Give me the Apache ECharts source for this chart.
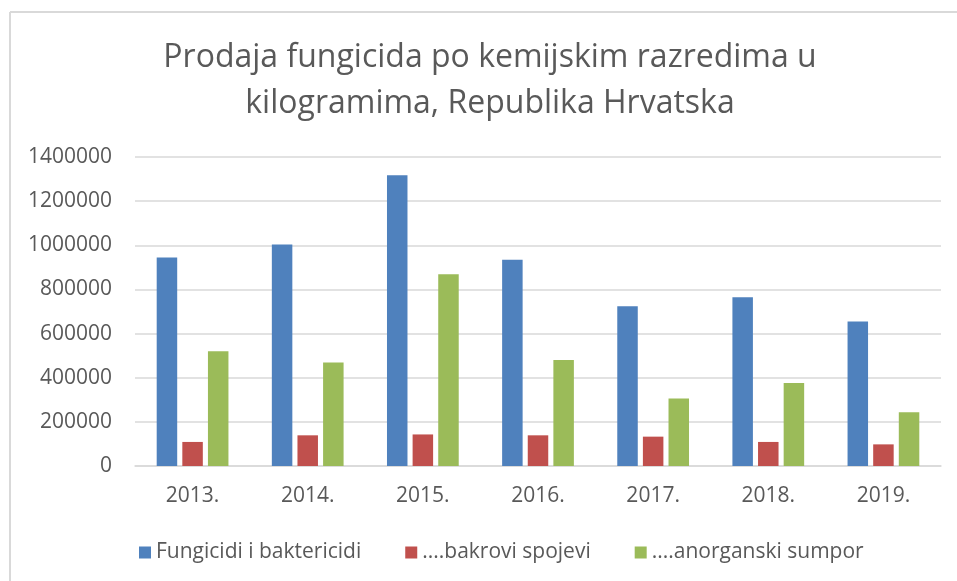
<!DOCTYPE html>
<html>
<head>
<meta charset="utf-8">
<script src="https://cdn.jsdelivr.net/npm/echarts@6/dist/echarts.min.js"></script>
<style>
html,body{margin:0;padding:0;background:#fff;}
#c{width:957px;height:581px;}
</style>
</head>
<body>
<div id="c"></div>
<script>
const categories = ['2013.', '2014.', '2015.', '2016.', '2017.', '2018.', '2019.'];
const seriesNames = ['Fungicidi i baktericidi', '....bakrovi spojevi', '....anorganski sumpor'];
const fungicidi = [945000, 1004000, 1317000, 934000, 724000, 765000, 655000];
const bakrovi = [109000, 139000, 143000, 139000, 133000, 109000, 98000];
const sumpor = [520000, 469000, 869000, 480000, 306000, 376000, 243000];
const yTicks = [0, 200000, 400000, 600000, 800000, 1000000, 1200000, 1400000];

const FONT = '"Open Sans", "Noto Sans", sans-serif';
const chart = echarts.init(document.getElementById('c'), null, {renderer: 'canvas'});
const colors = ['#4F81BD', '#C0504D', '#9BBB59'];

chart.setOption({
  animation: false,
  color: colors,
  title: {
    text: 'Prodaja fungicida po kemijskim razredima u\nkilogramima, Republika Hrvatska',
    left: 490,
    top: 35,
    padding: 0,
    textAlign: 'center',
    textStyle: {
      fontFamily: FONT,
      fontSize: 32,
      fontWeight: 'normal',
      color: '#595959',
      lineHeight: 46
    }
  },
  legend: {
    left: 134,
    top: 537,
    itemWidth: 12,
    itemHeight: 12,
    itemGap: 44,
    icon: 'rect',
    textStyle: {fontFamily: FONT, fontSize: 21, color: '#595959'},
    data: seriesNames
  },
  graphic: [
    {type: 'line', shape: {x1: 10, y1: 12, x2: 957, y2: 12}, style: {stroke: '#d9d9d9', lineWidth: 2}},
    {type: 'line', shape: {x1: 10, y1: 12, x2: 10, y2: 581}, style: {stroke: '#d9d9d9', lineWidth: 2}}
  ],
  grid: {left: 135, right: 16, top: 157, bottom: 115, containLabel: false},
  xAxis: {
    type: 'category',
    data: categories,
    axisLine: {show: true, lineStyle: {color: '#d9d9d9', width: 1.5}},
    axisTick: {show: false},
    axisLabel: {fontFamily: FONT, fontSize: 21, color: '#595959', margin: 20}
  },
  yAxis: {
    type: 'value',
    min: yTicks[0],
    max: yTicks[yTicks.length - 1],
    interval: yTicks[1] - yTicks[0],
    axisLine: {show: false},
    axisTick: {show: false},
    splitLine: {lineStyle: {color: '#d9d9d9', width: 1.5}},
    axisLabel: {fontFamily: FONT, fontSize: 21, color: '#595959', margin: 23, formatter: function (v) { return String(v); }}
  },
  series: [
    {name: seriesNames[0], type: 'bar', data: fungicidi, barWidth: 20.5, barGap: '25%'},
    {name: seriesNames[1], type: 'bar', data: bakrovi, barWidth: 20.5, barGap: '25%'},
    {name: seriesNames[2], type: 'bar', data: sumpor, barWidth: 20.5, barGap: '25%'}
  ]
});
</script>
</body>
</html>
